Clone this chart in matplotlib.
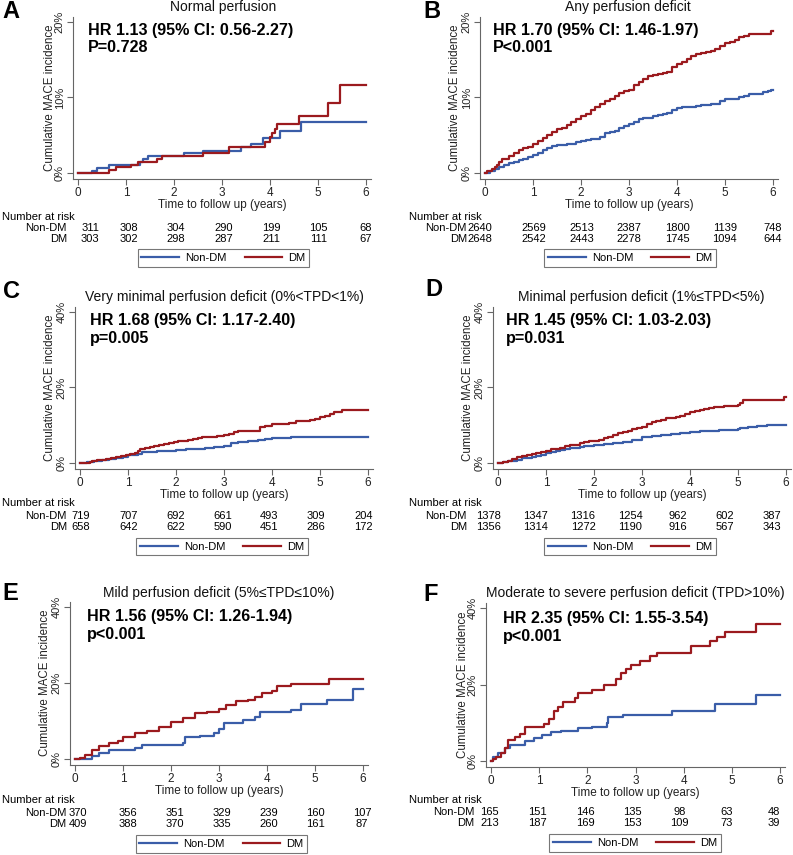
import matplotlib
matplotlib.use("Agg")
import matplotlib.pyplot as plt
from matplotlib.ticker import FuncFormatter

plt.rcParams['font.family'] = ['Liberation Sans', 'DejaVu Sans']

# ---------------- data ----------------
panel_letters = ["A", "B", "C", "D", "E", "F"]
panel_titles = ["Normal perfusion", "Any perfusion deficit",
                "Very minimal perfusion deficit (0%<TPD<1%)",
                "Minimal perfusion deficit (1%≤TPD<5%)",
                "Mild perfusion deficit (5%≤TPD≤10%)",
                "Moderate to severe perfusion deficit (TPD>10%)"]
hr_texts = ["HR 1.13 (95% CI: 0.56-2.27)", "HR 1.70 (95% CI: 1.46-1.97)",
            "HR 1.68 (95% CI: 1.17-2.40)", "HR 1.45 (95% CI: 1.03-2.03)",
            "HR 1.56 (95% CI: 1.26-1.94)", "HR 2.35 (95% CI: 1.55-3.54)"]
p_texts = ["P=0.728", "P<0.001", "p=0.005", "p=0.031", "p<0.001", "p<0.001"]
y_max = [20, 20, 40, 40, 40, 40]
x_ticks = [0, 1, 2, 3, 4, 5, 6]
group_labels = ["Non-DM", "DM"]

# Panel A
A_nondm_t = [0, 0.3, 0.4, 0.65, 1.3, 1.35, 1.45, 2.2, 2.6, 3.4, 3.6, 3.85, 4.2, 4.65, 6.0]
A_nondm_v = [0, 0.3, 0.6, 1.0, 1.4, 1.9, 2.3, 2.6, 2.9, 3.4, 3.8, 4.7, 5.6, 6.8, 6.8]
A_dm_t = [0, 0.65, 0.8, 1.1, 1.25, 1.65, 1.75, 2.6, 3.15, 3.9, 4.0, 4.05, 4.1, 4.15, 4.6, 5.2, 5.45, 6.0]
A_dm_v = [0, 0.4, 0.8, 1.1, 1.4, 1.9, 2.3, 2.6, 3.5, 4.1, 4.8, 5.3, 5.8, 6.5, 7.6, 9.3, 11.7, 11.7]
# Panel B
B_nondm_t = [0, 0.1, 0.2, 0.3, 0.4, 0.5, 0.6, 0.7, 0.8, 0.9, 1.0, 1.1, 1.2, 1.3, 1.4, 1.5, 1.6, 1.7, 1.8, 1.9,
             2.0, 2.1, 2.2, 2.3, 2.4, 2.5, 2.6, 2.7, 2.8, 2.9, 3.0, 3.1, 3.2, 3.3, 3.4, 3.5, 3.6, 3.7, 3.8, 3.9,
             4.0, 4.1, 4.2, 4.3, 4.4, 4.5, 4.6, 4.7, 4.8, 4.9, 5.0, 5.1, 5.2, 5.3, 5.4, 5.5, 5.6, 5.7, 5.8, 5.9,
             5.95, 6.0]
B_nondm_v = [0, 0.2, 0.5, 0.8, 1.0, 1.3, 1.5, 1.7, 1.9, 2.1, 2.4, 2.7, 3.0, 3.3, 3.6, 3.7, 3.7, 3.8, 3.9, 4.1,
             4.3, 4.4, 4.5, 4.5, 4.8, 5.3, 5.4, 5.6, 5.9, 6.2, 6.5, 6.8, 7.2, 7.3, 7.3, 7.5, 7.7, 7.8, 8.0, 8.3,
             8.6, 8.7, 8.8, 8.8, 8.9, 9.0, 9.0, 9.1, 9.2, 9.5, 9.8, 9.8, 9.8, 10.0, 10.2, 10.4, 10.5, 10.5, 10.7, 10.8,
             11.0, 11.0]
B_dm_t = [0, 0.05, 0.1, 0.15, 0.2, 0.25, 0.3, 0.35, 0.4, 0.5, 0.6, 0.7, 0.8, 0.9, 1.0, 1.1, 1.2, 1.3, 1.4, 1.5,
          1.6, 1.7, 1.8, 1.9, 2.0, 2.1, 2.2, 2.3, 2.4, 2.5, 2.6, 2.7, 2.8, 2.9, 3.0, 3.1, 3.2, 3.3, 3.4, 3.5,
          3.6, 3.7, 3.8, 3.9, 4.0, 4.1, 4.2, 4.3, 4.4, 4.5, 4.6, 4.7, 4.8, 4.9, 5.0, 5.1, 5.2, 5.3, 5.4, 5.5,
          5.95, 6.0]
B_dm_v = [0, 0.2, 0.3, 0.5, 0.8, 1.1, 1.4, 1.8, 1.9, 2.2, 2.6, 3.0, 3.3, 3.5, 3.9, 4.2, 4.6, 5.0, 5.4, 5.8,
          6.0, 6.4, 6.8, 7.1, 7.5, 7.8, 8.3, 8.8, 9.2, 9.6, 9.8, 10.2, 10.6, 10.8, 11.0, 11.6, 12.1, 12.5, 12.8, 13.0,
          13.1, 13.2, 13.4, 14.0, 14.5, 14.7, 15.1, 15.5, 15.7, 15.9, 16.0, 16.2, 16.4, 16.8, 17.2, 17.3, 17.6, 18.0, 18.2, 18.4,
          18.8, 18.8]
# Panel C
C_nondm_t = [0, 0.15, 0.3, 0.45, 0.6, 0.75, 0.9, 1.0, 1.1, 1.2, 1.3, 1.45, 1.6, 1.8, 2.0, 2.2, 2.4, 2.6, 2.8,
             3.0, 3.15, 3.3, 3.5, 3.7, 3.85, 4.0, 4.2, 4.4, 6.0]
C_nondm_v = [0, 0.2, 0.5, 0.8, 1.1, 1.3, 1.7, 2.0, 2.2, 2.5, 2.8, 3.0, 3.1, 3.2, 3.4, 3.6, 3.7, 3.9, 4.2,
             4.4, 5.4, 5.6, 5.8, 6.0, 6.3, 6.5, 6.7, 6.9, 6.9]
C_dm_t = [0, 0.1, 0.2, 0.25, 0.35, 0.45, 0.55, 0.65, 0.75, 0.85, 0.95, 1.05, 1.15, 1.2, 1.25, 1.35, 1.45, 1.55,
          1.65, 1.75, 1.85, 1.95, 2.05, 2.15, 2.25, 2.35, 2.45, 2.55, 2.7, 2.85, 3.0, 3.1, 3.2, 3.3, 3.7, 3.75,
          3.85, 4.0, 4.2, 4.35, 4.5, 4.65, 4.8, 4.9, 5.0, 5.1, 5.2, 5.3, 5.45, 6.0]
C_dm_v = [0, 0.1, 0.2, 0.4, 0.7, 0.9, 1.1, 1.4, 1.6, 1.9, 2.2, 2.4, 2.7, 3.2, 3.7, 3.9, 4.2, 4.5,
          4.7, 5.0, 5.2, 5.5, 5.7, 5.9, 6.2, 6.4, 6.7, 6.9, 7.0, 7.2, 7.5, 7.8, 8.2, 8.4, 8.5, 9.6,
          9.8, 10.2, 10.3, 10.6, 11.0, 11.0, 11.3, 11.7, 12.2, 12.4, 13.0, 13.4, 14.0, 14.0]
# Panel D
D_nondm_t = [0, 0.1, 0.2, 0.3, 0.4, 0.5, 0.6, 0.7, 0.8, 0.9, 1.0, 1.1, 1.2, 1.3, 1.4, 1.5, 1.6, 1.7, 1.8, 1.9,
             2.0, 2.2, 2.4, 2.6, 2.8, 3.0, 3.1, 3.2, 3.4, 3.6, 3.8, 4.0, 4.2, 4.4, 4.6, 4.8, 5.0, 5.05, 5.2,
             5.4, 5.6, 6.0]
D_nondm_v = [0, 0.2, 0.4, 0.6, 0.9, 1.2, 1.4, 1.6, 1.9, 2.2, 2.6, 2.8, 3.1, 3.4, 3.6, 3.9, 4.0, 4.2, 4.4, 4.6,
             4.8, 5.0, 5.2, 5.5, 6.1, 6.8, 7.0, 7.2, 7.3, 7.7, 8.0, 8.3, 8.5, 8.6, 8.7, 8.8, 8.9, 9.4, 9.6,
             9.8, 10.0, 10.0]
D_dm_t = [0, 0.1, 0.2, 0.3, 0.4, 0.5, 0.6, 0.7, 0.8, 0.9, 1.0, 1.1, 1.2, 1.3, 1.4, 1.5, 1.6, 1.7, 1.8, 1.9,
          2.0, 2.1, 2.2, 2.3, 2.4, 2.5, 2.6, 2.7, 2.8, 2.9, 3.0, 3.1, 3.2, 3.3, 3.4, 3.5, 3.6, 3.7, 3.8, 3.9,
          4.0, 4.1, 4.2, 4.3, 4.4, 4.5, 4.6, 4.7, 4.8, 4.9, 5.0, 5.05, 5.1, 5.2, 5.95, 6.0]
D_dm_v = [0, 0.3, 0.6, 1.0, 1.5, 1.8, 2.1, 2.4, 2.7, 3.0, 3.3, 3.6, 3.8, 4.1, 4.4, 4.7, 4.9, 5.2, 5.5, 5.7,
          5.9, 6.2, 6.6, 7.0, 7.4, 7.9, 8.1, 8.5, 8.9, 9.2, 9.6, 10.3, 10.8, 11.1, 11.4, 11.8, 12.0, 12.2, 12.5, 13.0,
          13.6, 13.8, 14.1, 14.4, 14.6, 14.8, 14.9, 15.0, 15.1, 15.2, 15.4, 15.8, 16.8, 16.8, 17.5, 17.5]
# Panel E
E_nondm_t = [0, 0.35, 0.5, 0.7, 1.0, 1.25, 1.4, 1.75, 2.25, 2.3, 2.6, 2.9, 3.0, 3.1, 3.5, 3.75, 3.85, 4.5, 4.7, 5.25, 5.8, 6.0]
E_nondm_v = [0, 0.8, 1.7, 2.4, 2.5, 3.0, 3.7, 3.8, 4.3, 5.7, 6.1, 6.8, 7.8, 9.5, 10.2, 11.0, 12.3, 13.0, 14.5, 15.6, 18.3, 18.3]
E_dm_t = [0, 0.1, 0.2, 0.35, 0.5, 0.7, 0.9, 1.0, 1.25, 1.5, 1.75, 2.0, 2.25, 2.5, 2.75, 3.0, 3.15, 3.35, 3.6,
          3.75, 3.9, 4.1, 4.2, 4.5, 5.3, 6.0]
E_dm_v = [0, 0.3, 1.0, 2.5, 3.3, 4.3, 4.7, 5.8, 6.8, 7.5, 8.5, 9.8, 10.8, 12.2, 12.5, 13.2, 14.2, 15.3, 15.5,
          16.3, 17.3, 18.0, 19.2, 19.8, 21.0, 21.0]
# Panel F
F_nondm_t = [0, 0.05, 0.15, 0.3, 0.4, 0.7, 0.9, 1.05, 1.25, 1.45, 1.8, 2.1, 2.4, 2.42, 2.75, 3.75, 4.65, 5.5, 6.0]
F_nondm_v = [0, 1.0, 2.0, 3.3, 4.2, 5.3, 6.0, 6.8, 7.5, 7.9, 8.5, 9.0, 10.0, 11.5, 12.1, 13.0, 14.8, 17.3, 17.3]
F_dm_t = [0, 0.05, 0.1, 0.2, 0.3, 0.35, 0.5, 0.6, 0.7, 1.0, 1.1, 1.2, 1.3, 1.4, 1.5, 1.75, 1.8, 2.1, 2.35, 2.6,
          2.7, 2.8, 2.9, 3.1, 3.3, 3.45, 4.15, 4.55, 4.7, 4.85, 5.5, 6.0]
F_dm_v = [0, 0.5, 1.0, 2.0, 3.5, 5.5, 6.2, 7.0, 8.8, 9.0, 9.8, 11.0, 13.2, 14.0, 15.3, 16.5, 17.8, 18.5, 20.0, 21.5,
          23.0, 24.0, 25.2, 26.2, 27.5, 28.3, 30.0, 31.3, 32.5, 33.8, 35.8, 35.8]

# numbers at risk
A_risk_nondm = [311, 308, 304, 290, 199, 105, 68]
A_risk_dm = [303, 302, 298, 287, 211, 111, 67]
B_risk_nondm = [2640, 2569, 2513, 2387, 1800, 1139, 748]
B_risk_dm = [2648, 2542, 2443, 2278, 1745, 1094, 644]
C_risk_nondm = [719, 707, 692, 661, 493, 309, 204]
C_risk_dm = [658, 642, 622, 590, 451, 286, 172]
D_risk_nondm = [1378, 1347, 1316, 1254, 962, 602, 387]
D_risk_dm = [1356, 1314, 1272, 1190, 916, 567, 343]
E_risk_nondm = [370, 356, 351, 329, 239, 160, 107]
E_risk_dm = [409, 388, 370, 335, 260, 161, 87]
F_risk_nondm = [165, 151, 146, 135, 98, 63, 48]
F_risk_dm = [213, 187, 169, 153, 109, 73, 39]

curves = [
    ((A_nondm_t, A_nondm_v), (A_dm_t, A_dm_v)),
    ((B_nondm_t, B_nondm_v), (B_dm_t, B_dm_v)),
    ((C_nondm_t, C_nondm_v), (C_dm_t, C_dm_v)),
    ((D_nondm_t, D_nondm_v), (D_dm_t, D_dm_v)),
    ((E_nondm_t, E_nondm_v), (E_dm_t, E_dm_v)),
    ((F_nondm_t, F_nondm_v), (F_dm_t, F_dm_v)),
]
risks = [(A_risk_nondm, A_risk_dm), (B_risk_nondm, B_risk_dm), (C_risk_nondm, C_risk_dm),
         (D_risk_nondm, D_risk_dm), (E_risk_nondm, E_risk_dm), (F_risk_nondm, F_risk_dm)]

# ---------------- layout (pixels) ----------------
W, H = 793, 855
# x of t=0, x of t=6, y of 0%, y of ymax
geo = [(78, 366, 173, 22), (485, 773, 173, 22),
       (80, 368, 463, 312), (498, 786, 463, 312),
       (75, 363, 759, 607), (491, 780, 761, 608)]
letter_pos = [(2, 12), (423, 12), (3, 291), (425, 290), (2, 593), (423, 594)]
title_pos = [(223, 7), (628, 7), (224, 297), (641, 297), (219, 593), (635, 593)]
hr_pos = [(88, 30), (493, 30), (90, 320), (506, 320), (87, 616), (503, 618)]
p_dy = 18
risk_rows_y = [(217, 228, 239), (217, 228, 239), (503, 516, 527), (503, 516, 527),
               (800, 813, 824), (800, 812, 823)]
risk_header_x = [2, 409, 2, 409, 2, 409]
risk_label_x = [67, 467, 67, 467, 66, 474]
# centre of first column, of column 1 and of column 6
risk_cols = [(90, 128.7, 366), (480, 533.7, 772.5), (80.5, 128.3, 363.3),
             (488.5, 535.8, 772), (78.2, 128.2, 362), (489.5, 537.8, 774)]
legend_center = [(223.5, 258), (630, 258), (222, 546.5), (630, 546.5), (221.5, 844), (635, 843)]
ylabel_x = [50, 455, 50, 468, 45, 463]

c_nondm = '#3a5da8'
c_dm = '#9b1a1e'
axis_col = '#666666'

fig = plt.figure(figsize=(W / 100, H / 100), dpi=100)
fig.patch.set_facecolor('white')

def fx(px):
    return px / W

def fy(py):
    return 1 - py / H

for i in range(6):
    x0, x6, y0, yt = geo[i]
    ym = y_max[i]
    pxu = (x6 - x0) / 6.0
    pyu = (y0 - yt) / ym
    xlo, xhi = -0.1, 6.1
    ylo, yhi = -0.04 * ym, 1.035 * ym
    left = x0 + xlo * pxu
    right = x0 + xhi * pxu
    bottom = y0 - ylo * pyu
    top = y0 - yhi * pyu
    ax = fig.add_axes([fx(left), fy(bottom), fx(right - left), (bottom - top) / H])
    ax.set_xlim(xlo, xhi)
    ax.set_ylim(ylo, yhi)
    (tn, vn), (td, vd) = curves[i]
    l1, = ax.step(tn, vn, where='post', color=c_nondm, lw=1.6, label=group_labels[0], zorder=3)
    l2, = ax.step(td, vd, where='post', color=c_dm, lw=1.6, label=group_labels[1], zorder=4)
    for s in ['top', 'right']:
        ax.spines[s].set_visible(False)
    for s in ['left', 'bottom']:
        ax.spines[s].set_color(axis_col)
        ax.spines[s].set_linewidth(0.8)
    ax.set_xticks(x_ticks)
    ax.set_yticks([0, ym / 2, ym])
    ax.yaxis.set_major_formatter(FuncFormatter(lambda v, p: f"{int(v)}%"))
    ax.tick_params(axis='both', colors=axis_col, labelcolor='#222222',
                   length=4, width=0.8, pad=2)
    ax.tick_params(axis='x', labelsize=8.5)
    ax.tick_params(axis='y', labelsize=8, pad=2)
    for lab in ax.get_yticklabels():
        lab.set_rotation(90)
        lab.set_va('center')
    ax.set_xlabel("Time to follow up (years)", fontsize=8.5, color='#222222', labelpad=-0.5)
    fig.text(fx(ylabel_x[i]), fy((y0 + yt) / 2), "Cumulative MACE incidence", rotation=90,
             ha='center', va='center', fontsize=8.3, color='#222222')
    # letter, title, HR text
    lx, ly = letter_pos[i]
    fig.text(fx(lx), fy(ly), panel_letters[i], fontsize=17, fontweight='bold',
             ha='left', va='center')
    tx, ty = title_pos[i]
    fig.text(fx(tx), fy(ty), panel_titles[i], fontsize=10, ha='center', va='center', color='#111111')
    hx, hy = hr_pos[i]
    fig.text(fx(hx), fy(hy), hr_texts[i], fontsize=11.6, fontweight='bold', ha='left', va='center')
    fig.text(fx(hx), fy(hy + p_dy), p_texts[i], fontsize=11.6, fontweight='bold', ha='left', va='center')
    # number at risk
    hy0, ry1, ry2 = risk_rows_y[i]
    fig.text(fx(risk_header_x[i]), fy(hy0), "Number at risk", fontsize=8, ha='left', va='center')
    c0, c1, c6 = risk_cols[i]
    step = (c6 - c1) / 5.0
    col_x = [c0] + [c1 + step * (k - 1) for k in range(1, 7)]
    for row_y, lab, vals in ((ry1, group_labels[0], risks[i][0]), (ry2, group_labels[1], risks[i][1])):
        fig.text(fx(risk_label_x[i]), fy(row_y), lab, fontsize=8, ha='right', va='center')
        for cx, v in zip(col_x, vals):
            fig.text(fx(cx), fy(row_y), str(v), fontsize=8, ha='center', va='center')
    # legend
    lcx, lcy = legend_center[i]
    leg = fig.legend(handles=[l1, l2], labels=group_labels, loc='center',
                     bbox_to_anchor=(fx(lcx), fy(lcy)), ncol=2, fontsize=8,
                     handlelength=3.4, handletextpad=0.55, columnspacing=1.6,
                     borderpad=0.35, fancybox=False, frameon=True, edgecolor='#555555')
    leg.get_frame().set_linewidth(0.8)

fig.savefig("out.png", dpi=100, facecolor='white')
